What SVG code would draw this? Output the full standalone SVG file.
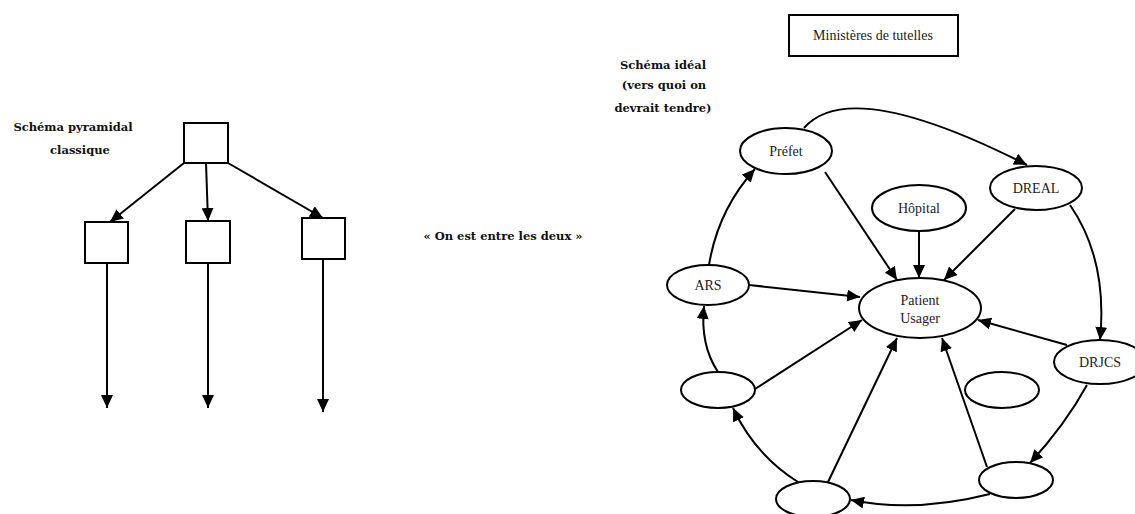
<svg xmlns="http://www.w3.org/2000/svg" width="1135" height="514" viewBox="0 0 1135 514">
<defs>
<style>
.bx{fill:#fff;stroke:#000;stroke-width:2}
.el{fill:#fff;stroke:#000;stroke-width:2}
.ed{fill:none;stroke:#000;stroke-width:2}
.t{font-family:"Liberation Serif",serif;font-size:14px;fill:#222;text-anchor:middle}
.b{font-family:"DejaVu Serif",serif;font-size:11.5px;font-weight:bold;fill:#111;text-anchor:middle}
</style>
<marker id="ah" markerUnits="userSpaceOnUse" markerWidth="14" markerHeight="12" refX="13" refY="6" orient="auto">
<path d="M0,0 L13,6 L0,12 Z" fill="#000"/>
</marker>
</defs>
<rect width="1135" height="514" fill="#fff"/>
<g id="labels">
<text class="b" x="73" y="131">Schéma pyramidal</text>
<text class="b" x="80" y="154">classique</text>
<text class="b" x="503" y="240">« On est entre les deux »</text>
<text class="b" x="663" y="69">Schéma idéal</text>
<text class="b" x="664" y="89">(vers quoi on</text>
<text class="b" x="663" y="112">devrait tendre)</text>
</g>
<g id="connectors">
<line class="ed" x1="184" y1="163" x2="110" y2="222" marker-end="url(#ah)"/>
<line class="ed" x1="206" y1="163" x2="208" y2="221" marker-end="url(#ah)"/>
<line class="ed" x1="228" y1="163" x2="323" y2="218" marker-end="url(#ah)"/>
<line class="ed" x1="107" y1="263" x2="107" y2="408" marker-end="url(#ah)"/>
<line class="ed" x1="208" y1="263" x2="208" y2="408" marker-end="url(#ah)"/>
<line class="ed" x1="323" y1="259" x2="323" y2="412" marker-end="url(#ah)"/>
<path class="ed" d="M804,128 Q850,75 1027,165" marker-end="url(#ah)"/>
<line class="ed" x1="825" y1="172" x2="897" y2="280" marker-end="url(#ah)"/>
<line class="ed" x1="919" y1="231" x2="919" y2="278" marker-end="url(#ah)"/>
<line class="ed" x1="1015" y1="209" x2="944" y2="280" marker-end="url(#ah)"/>
<path class="ed" d="M1070,205 Q1108,260 1100,340" marker-end="url(#ah)"/>
<line class="ed" x1="749" y1="285" x2="860" y2="297" marker-end="url(#ah)"/>
<path class="ed" d="M709,265 Q718,210 755,169" marker-end="url(#ah)"/>
<path class="ed" d="M718,372 Q700,345 704,306" marker-end="url(#ah)"/>
<line class="ed" x1="755" y1="389" x2="862" y2="320" marker-end="url(#ah)"/>
<path class="ed" d="M798,482 Q755,455 733,408" marker-end="url(#ah)"/>
<line class="ed" x1="828" y1="482" x2="897" y2="338" marker-end="url(#ah)"/>
<line class="ed" x1="987" y1="467" x2="942" y2="338" marker-end="url(#ah)"/>
<line class="ed" x1="1067" y1="345" x2="978" y2="320" marker-end="url(#ah)"/>
<path class="ed" d="M1087,385 Q1065,425 1030,463" marker-end="url(#ah)"/>
<path class="ed" d="M990,494 Q915,513 851,500" marker-end="url(#ah)"/>
</g>
<g id="box-top"><rect class="bx" x="184" y="123" width="44" height="40"/></g>
<g id="box-left"><rect class="bx" x="85" y="222" width="43" height="41"/></g>
<g id="box-mid"><rect class="bx" x="186" y="221" width="44" height="42"/></g>
<g id="box-right"><rect class="bx" x="302" y="218" width="43" height="41"/></g>
<g id="ministeres"><rect class="bx" x="789" y="15" width="169" height="41"/><text class="t" x="873" y="40">Ministères de tutelles</text></g>
<g id="prefet"><ellipse class="el" cx="786" cy="151" rx="46" ry="23"/><text class="t" x="786" y="156">Préfet</text></g>
<g id="dreal"><ellipse class="el" cx="1036" cy="188" rx="46" ry="22"/><text class="t" x="1036" y="193">DREAL</text></g>
<g id="hopital"><ellipse class="el" cx="919" cy="208" rx="47" ry="23"/><text class="t" x="919" y="213">Hôpital</text></g>
<g id="ars"><ellipse class="el" cx="708" cy="285" rx="41" ry="20"/><text class="t" x="708" y="290">ARS</text></g>
<g id="patient"><ellipse class="el" cx="920" cy="308" rx="61" ry="30"/><text class="t" x="920" y="305">Patient</text><text class="t" x="920" y="323">Usager</text></g>
<g id="drjcs"><ellipse class="el" cx="1100" cy="362" rx="46" ry="22"/><text class="t" x="1100" y="367">DRJCS</text></g>
<g id="empty-left"><ellipse class="el" cx="718" cy="390" rx="37" ry="18"/></g>
<g id="empty-mid"><ellipse class="el" cx="1002" cy="390" rx="37" ry="18"/></g>
<g id="empty-bottom"><ellipse class="el" cx="813" cy="499" rx="37" ry="18"/></g>
<g id="empty-right"><ellipse class="el" cx="1016" cy="480" rx="37" ry="18"/></g>
</svg>
